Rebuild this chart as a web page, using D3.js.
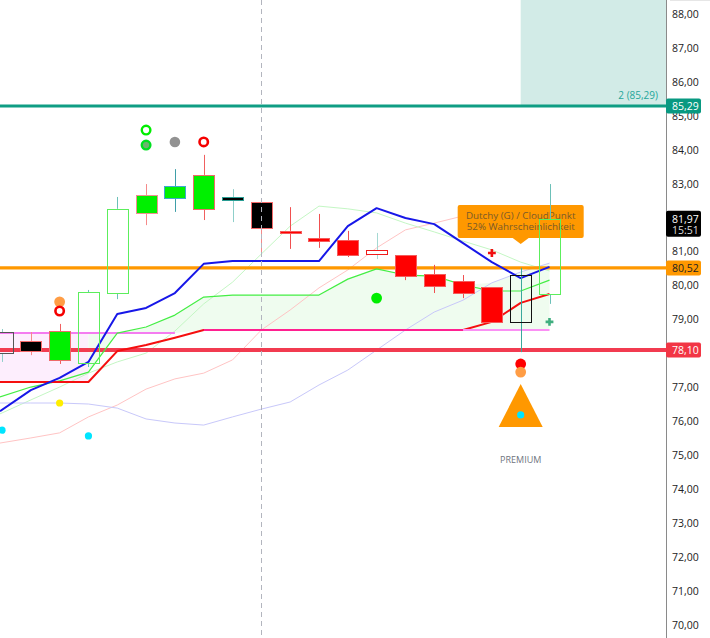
<!DOCTYPE html>
<html>
<head>
<meta http-equiv="Content-Type" content="text/html;charset=utf-8">
<script src="https://d3js.org/d3.v7.min.js"></script>
<style>
body { margin: 0; background: #fff; }
svg { display: block; }
text { font-family: "Open Sans", sans-serif; }
</style>
</head>
<body>
<svg id="chart" width="710" height="638"></svg>
<script type="text/javascript">

// candles
const highs  = [78.72,78.63,78.87,79.87,82.61,82.99,83.43,83.85,82.84,82.46,82.31,82.11,81.61,81.55,80.90,80.61,80.31,79.96,80.52,82.99];
const tops   = [78.63,78.37,78.66,79.81,82.26,82.67,82.93,83.26,82.61,82.46,81.61,81.40,81.34,81.05,80.90,80.34,80.13,79.96,80.31,81.96];
const bottoms= [78.01,78.07,77.81,77.72,79.78,82.14,82.58,82.26,82.52,81.70,81.55,81.31,80.90,80.93,80.28,79.99,79.78,78.93,78.93,79.75];
const lows   = [77.75,77.95,77.69,77.60,79.60,81.78,82.17,81.93,81.87,80.90,81.08,81.11,80.84,80.78,80.16,79.78,79.63,78.93,78.04,79.46];
const candleKinds = ["hollowDark","blackRed","greenRed","hollowGreen","hollowGreen","greenSalmon","greenTeal","greenRed","blackTeal","blackRed","red","red","red","hollowRed","red","red","red","red","hollowBlack","hollowGreen"];

// indicator lines
const blueLine  = [76.30,76.92,77.28,77.75,79.16,79.34,79.78,80.64,80.72,80.72,80.72,80.72,81.75,82.28,81.99,81.81,81.25,80.69,80.22,80.55];
const greenLine = [76.72,77.01,77.19,77.45,78.60,78.78,79.13,79.66,79.72,79.72,79.72,79.72,80.19,80.49,80.31,80.28,80.02,79.84,79.84,80.16];
const redLine   = [77.16,77.16,77.16,77.16,78.07,78.25,78.46,78.69,78.69,78.69,78.69,78.69,78.69,78.69,78.69,78.69,78.69,78.93,79.49,79.75];
const baseLine  = [78.60,78.60,78.60,78.60,78.60,78.60,78.60,78.69,78.69,78.69,78.69,78.69,78.69,78.69,78.69,78.69,78.69,78.69,78.69,78.69];
const paleGreen = [76.22,76.63,77.01,77.42,77.75,78.01,78.66,79.46,80.10,80.93,81.75,82.34,82.26,82.14,81.84,81.58,81.31,81.05,80.69,80.43];
const paleRed   = [75.36,75.51,75.66,76.13,76.48,76.95,77.25,77.42,77.81,78.69,79.28,79.93,80.46,81.11,81.64,81.84,82.05,82.17,82.05,81.43];
const paleBlue  = [76.54,76.54,76.54,76.51,76.39,76.07,75.95,75.89,76.13,76.36,76.57,77.07,77.51,78.10,78.69,79.22,79.57,80.08,80.40,80.66];

// markers: bar index, price, kind
const markerBars   = [5,5,6,7,2,2,2,3,0,13,18,18,18];
const markerPrices = [84.58,84.14,84.23,84.23,79.52,79.25,76.54,75.57,75.74,79.63,77.69,77.45,76.19];
const markerKinds  = ["greenRing","greenDot","gray","redRing","orange","redRing","yellow","cyan","cyan","green","red","orange","cyan"];
const crossBars   = [17,19];
const crossPrices = [80.96,78.93];
const crossKinds  = ["red","teal"];

// price levels
const tickValues = [70,71,72,73,74,75,76,77,79,80,81,83,84,85,86,87,88];
const levelPrices = [85.29,80.52,78.10];
const levelNames  = ["85,29","80,52","78,10"];
const lastPrice = 81.97, lastLabel = "81,97", countdown = "15:51";
const targetLabel = "2 (85,29)";
const signalBar = 18, crossBar = 9;
const triangleTop = 77.10, triangleBase = 75.83;
const labelLines = ["Dutchy (G) / CloudPunkt", "52% Wahrscheinlichkeit"];

const svg = d3.select("#chart");
const plotRight = 666, barW = 21;

const x = d3.scaleLinear().domain([0, 19]).range([2, 549.5]);
const y = d3.scaleLinear().domain([70, 88]).range([625, 14]);
const idx = d3.range(20);
// first point runs off the left edge of the plot
const xEdge = i => i === 0 ? 0 : x(i);

const candleStyle = {
  hollowDark:  { fill: "none",    stroke: "#555",    wick: "#8fcfca" },
  hollowBlack: { fill: "none",    stroke: "#111",    wick: "#3aa89c", through: true },
  hollowGreen: { fill: "none",    stroke: "#5cee5c", wick: "#6cc0b8" },
  hollowRed:   { fill: "#fff",    stroke: "#f01c1c", wick: "#a5d8d2" },
  blackRed:    { fill: "#000",    stroke: "#f46a6a", wick: "#f58a8a" },
  blackTeal:   { fill: "#000",    stroke: "#2a9d94", wick: "#8fcfca" },
  greenRed:    { fill: "#00f000", stroke: "#ee6a6a", wick: "#f06060" },
  greenSalmon: { fill: "#00f000", stroke: "#f09090", wick: "#f58a8a" },
  greenTeal:   { fill: "#00f000", stroke: "#3fa8d0", wick: "#3f9fa8" },
  red:         { fill: "#ff0000", stroke: "#f45c5c", wick: "#f05050" }
};
const dotStyle = {
  greenRing: { r: 4.3, fill: "#fff",    stroke: "#00ee00", sw: 2.4 },
  greenDot:  { r: 4.3, fill: "#6fb26f", stroke: "#00e020", sw: 2.4 },
  gray:      { r: 5.3, fill: "#929292", stroke: "none",    sw: 0 },
  redRing:   { r: 4.2, fill: "#fff",    stroke: "#f50000", sw: 2.6 },
  orange:    { r: 5.4, fill: "#ff9d45", stroke: "none",    sw: 0 },
  yellow:    { r: 3.6, fill: "#ffee00", stroke: "none",    sw: 0 },
  cyan:      { r: 3.6, fill: "#00e5ff", stroke: "none",    sw: 0 },
  green:     { r: 5.4, fill: "#00ee00", stroke: "none",    sw: 0 },
  red:       { r: 5.4, fill: "#ff0000", stroke: "none",    sw: 0 }
};

const line = d3.line().x(xEdge);
const pathOf = arr => line.y(i => y(arr[i]))(idx);

// target zone
svg.append("rect")
  .attr("x", x(signalBar)).attr("y", 0)
  .attr("width", plotRight - x(signalBar)).attr("height", y(levelPrices[0]))
  .attr("fill", "#d2ebe7");
svg.append("text").attr("x", 658).attr("y", 99)
  .attr("text-anchor", "end").attr("font-size", 10).attr("fill", "#26a69a")
  .text(targetLabel);

// cloud fills
svg.append("path")
  .attr("d", d3.area().x(xEdge).y0(i => y(baseLine[i])).y1(i => y(redLine[i]))(d3.range(0, 4)))
  .attr("fill", "#fdeefd");
svg.append("path")
  .attr("d", d3.area().x(xEdge).y0(i => y(baseLine[i])).y1(i => y(Math.max(greenLine[i], i > 16 ? paleBlue[i] : 0)))(d3.range(3, 20)))
  .attr("fill", "#effcef");

// pale lines
[[paleRed, "#ffc4c4"], [paleGreen, "#c4f7c4"], [paleBlue, "#c8c8fa"]].forEach(([arr, c]) => {
  svg.append("path").attr("d", pathOf(arr)).attr("fill", "none").attr("stroke", c).attr("stroke-width", 1);
});

// horizontal levels
[["#0f9d84", 3], ["#ff9800", 3.4], ["#f23b50", 4]].forEach(([c, w], i) => {
  svg.append("line").attr("x1", 0).attr("x2", plotRight)
    .attr("y1", y(levelPrices[i])).attr("y2", y(levelPrices[i]))
    .attr("stroke", c).attr("stroke-width", w);
});

// base line, left part stays under the red line
const drawBase = (r, c) => svg.append("path").attr("d", line.y(i => y(baseLine[i]))(r))
  .attr("fill", "none").attr("stroke", c).attr("stroke-width", 2);
drawBase(d3.range(0, 7), "#f47cf0");

// main lines
[[greenLine, "#44ee44", 1.2], [redLine, "#f50f0f", 2], [blueLine, "#1717e8", 2]].forEach(([arr, c, w]) => {
  svg.append("path").attr("d", pathOf(arr)).attr("fill", "none")
    .attr("stroke", c).attr("stroke-width", w).attr("stroke-linejoin", "round");
});
drawBase(d3.range(7, 17), "#ff2090");
drawBase(d3.range(16, 20), "#fb90f4");

// callout
const lx = x(signalBar);
svg.append("path")
  .attr("d", "M" + (lx - 61) + "," + 205 + "h122a2,2 0 0 1 2,2v29a2,2 0 0 1 -2,2h-53l-8,6l-8,-6h-53a2,2 0 0 1 -2,-2v-29a2,2 0 0 1 2,-2z")
  .attr("fill", "#ff9800");
labelLines.forEach((t, i) => {
  svg.append("text").attr("x", lx).attr("y", 219 + i * 11)
    .attr("text-anchor", "middle").attr("font-size", 9.8).attr("fill", "#7a5a2a").text(t);
});

// candles
const bars = svg.append("g").selectAll("g").data(idx).join("g");
const wickColor = i => candleStyle[candleKinds[i]].wick;
bars.append("line")
  .attr("x1", i => Math.round(x(i)) + 0.5).attr("x2", i => Math.round(x(i)) + 0.5)
  .attr("y1", i => y(highs[i]))
  .attr("y2", i => y(candleStyle[candleKinds[i]].through ? lows[i] : tops[i]))
  .attr("stroke", wickColor);
bars.append("line")
  .attr("x1", i => Math.round(x(i)) + 0.5).attr("x2", i => Math.round(x(i)) + 0.5)
  .attr("y1", i => y(bottoms[i])).attr("y2", i => y(lows[i]))
  .attr("stroke", wickColor);
bars.append("rect")
  .attr("x", i => Math.round(x(i) - barW / 2) + 0.5)
  .attr("width", barW)
  .attr("y", i => Math.round(y(tops[i])) + 0.5)
  .attr("height", i => Math.max(1, Math.round(y(bottoms[i]) - y(tops[i]))))
  .attr("fill", i => candleStyle[candleKinds[i]].fill)
  .attr("stroke", i => candleStyle[candleKinds[i]].stroke);

// crosshair
svg.append("line").attr("x1", Math.round(x(crossBar)) + 0.5).attr("x2", Math.round(x(crossBar)) + 0.5).attr("y1", 0).attr("y2", 638)
  .attr("stroke", "#b2b5be").attr("stroke-dasharray", "5,4");

// triangle + markers
svg.append("path")
  .attr("d", d3.line()([[x(signalBar), y(triangleTop)], [x(signalBar) + 22, y(triangleBase)], [x(signalBar) - 22, y(triangleBase)]]) + "Z")
  .attr("fill", "#ff9800");
svg.append("g").selectAll("circle").data(d3.range(markerBars.length)).join("circle")
  .attr("cx", i => x(markerBars[i]))
  .attr("cy", i => y(markerPrices[i]))
  .attr("r", i => dotStyle[markerKinds[i]].r)
  .attr("fill", i => dotStyle[markerKinds[i]].fill)
  .attr("stroke", i => dotStyle[markerKinds[i]].stroke)
  .attr("stroke-width", i => dotStyle[markerKinds[i]].sw);
svg.append("g").selectAll("path").data(d3.range(crossBars.length)).join("path")
  .attr("d", d3.symbol(d3.symbolCross, 34)())
  .attr("transform", i => "translate(" + x(crossBars[i]) + "," + y(crossPrices[i]) + ")")
  .attr("fill", i => crossKinds[i] === "red" ? "#f01010" : "#3fae7f");

svg.append("text").attr("x", x(signalBar)).attr("y", 463)
  .attr("text-anchor", "middle").attr("font-size", 9).attr("fill", "#6f7480").text("PREMIUM");

// price axis
const axis = d3.axisRight(y).tickValues(tickValues).tickSize(0).tickPadding(6)
  .tickFormat(d => d3.format(".2f")(d).replace(".", ","));
const ag = svg.append("g").attr("transform", "translate(" + plotRight + ",0)").call(axis);
ag.select(".domain").remove();
ag.selectAll("text").attr("font-size", 10.5).attr("fill", "#222").attr("font-family", "Open Sans");
svg.append("line").attr("x1", plotRight + 0.5).attr("x2", plotRight + 0.5).attr("y1", 0).attr("y2", 638).attr("stroke", "#8a8a8a");
svg.append("line").attr("x1", plotRight + 4).attr("x2", 710).attr("y1", 0.5).attr("y2", 0.5).attr("stroke", "#e6e6e6");

// price badges
["#089981", "#ff9800", "#f23645"].forEach((c, i) => {
  const py = y(levelPrices[i]);
  svg.append("rect").attr("x", plotRight).attr("y", py - 7.5).attr("width", 35).attr("height", 15).attr("rx", 2).attr("fill", c);
  svg.append("text").attr("x", plotRight + 6).attr("y", py + 4).attr("font-size", 10.5)
    .attr("fill", i === 1 ? "#222" : "#fff").text(levelNames[i]);
});
const ly = y(lastPrice);
svg.append("rect").attr("x", plotRight).attr("y", ly - 8).attr("width", 35).attr("height", 26).attr("rx", 2).attr("fill", "#000");
svg.append("text").attr("x", plotRight + 6).attr("y", ly + 4).attr("font-size", 10.5).attr("fill", "#fff").text(lastLabel);
svg.append("text").attr("x", plotRight + 6).attr("y", ly + 15).attr("font-size", 10.5).attr("fill", "#ddd").text(countdown);

</script>
</body>
</html>
